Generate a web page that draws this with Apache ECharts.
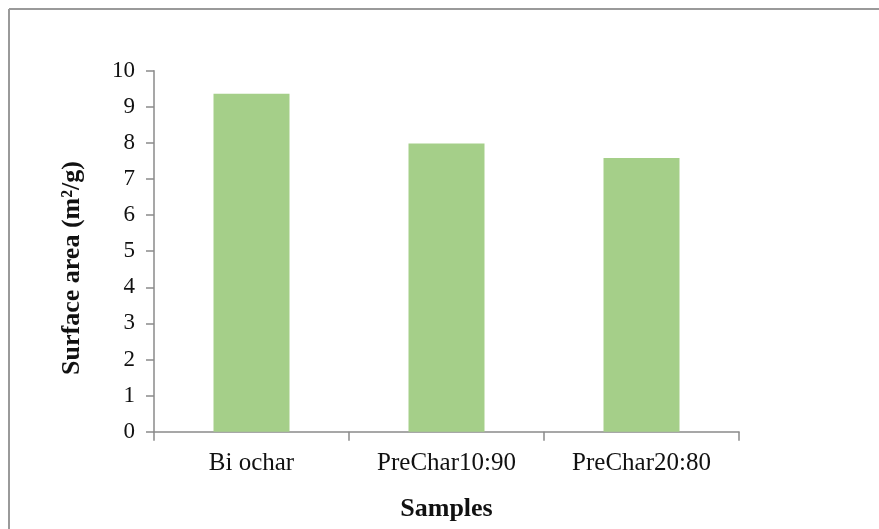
<!DOCTYPE html>
<html>
<head>
<meta charset="utf-8">
<script src="https://cdn.jsdelivr.net/npm/echarts@6/dist/echarts.min.js"></script>
<style>
html,body{margin:0;padding:0;background:#fff;}
#chart{width:879px;height:529px;}
</style>
</head>
<body>
<div id="chart"></div>
<script>
const categories = ['Bi ochar', 'PreChar10:90', 'PreChar20:80'];
const surfaceArea = [9.36, 7.98, 7.58];
const yTicks = { min: 0, max: 10, interval: 1 };

const chart = echarts.init(document.getElementById('chart'));
const serif = '"Liberation Serif", "Times New Roman", serif';
const axisColor = '#8a8a8a';
chart.setOption({
  backgroundColor: '#ffffff',
  animation: false,
  grid: { left: 154, right: 140, top: 70.7, bottom: 97.3 },
  xAxis: {
    type: 'category',
    data: categories,
    name: 'Samples',
    nameLocation: 'middle',
    nameGap: 65,
    nameTextStyle: { fontFamily: serif, fontWeight: 'bold', fontSize: 26, color: '#111' },
    axisLine: { lineStyle: { color: axisColor, width: 1.5 } },
    axisTick: { show: true, length: 9, inside: false, lineStyle: { color: axisColor, width: 1.5 } },
    axisLabel: { fontFamily: serif, fontSize: 25, color: '#111', margin: 19 },
    splitLine: { show: false }
  },
  yAxis: {
    type: 'value',
    min: yTicks.min, max: yTicks.max, interval: yTicks.interval,
    axisLine: { show: true, lineStyle: { color: axisColor, width: 1.5 } },
    axisTick: { show: true, length: 8, lineStyle: { color: axisColor, width: 1.5 } },
    axisLabel: { fontFamily: serif, fontSize: 23, color: '#111', margin: 19 },
    splitLine: { show: false }
  },
  series: [{
    type: 'bar',
    data: surfaceArea,
    barWidth: 76,
    itemStyle: { color: '#a5cf89' }
  }],
  graphic: [
    { type: 'line', shape: { x1: 9, y1: 9, x2: 879, y2: 9 }, style: { stroke: '#9a9a9a', lineWidth: 2 } },
    { type: 'line', shape: { x1: 9, y1: 9, x2: 9, y2: 529 }, style: { stroke: '#9a9a9a', lineWidth: 2 } },
    {
      type: 'text', x: 72, y: 268, rotation: Math.PI / 2,
      style: { text: 'Surface area (m²/g)', fontFamily: serif, fontWeight: 'bold', fontSize: 26, fill: '#111', align: 'center', verticalAlign: 'middle' }
    }
  ]
});
</script>
</body>
</html>
